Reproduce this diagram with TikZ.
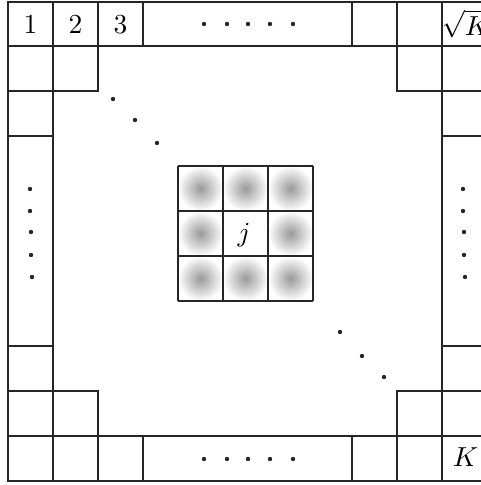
\documentclass[tikz,border=0pt]{standalone}
\begin{document}
\begin{tikzpicture}[x=1pt,y=-1pt,
  gridline/.style={line width=1.6pt,black!85},
  lbl/.style={font=\normalsize,scale=2.75,inner sep=0pt},
  dotmark/.style={fill=black!85,draw=none}]
\clip (0,0) rectangle (481,485);
\fill[white] (0,0) rectangle (481,485);
% shaded neighbour cells
\foreach \cx/\cy in {178/166,223/166,268/166,178/211,268/211,178/256,223/256,268/256}{
  \shade[inner color=gray!80,outer color=white] (\cx,\cy) rectangle ++(45,45);
}
% center 3x3 grid
\foreach \v in {178,223,268,313}{
  \draw[gridline] (\v,166) -- (\v,301);
}
\foreach \v in {166,211,256,301}{
  \draw[gridline] (178,\v) -- (313,\v);
}
% outer frame
\draw[gridline] (8,2) rectangle (487,481);
\draw[gridline] (8,46) -- (487,46);
\draw[gridline] (8,436) -- (487,436);
\draw[gridline] (53,2) -- (53,481);
\draw[gridline] (442,2) -- (442,481);
\foreach \v in {98,143,352,397}{
  \draw[gridline] (\v,2) -- (\v,46);
  \draw[gridline] (\v,436) -- (\v,481);
}
% staircases
\draw[gridline] (8,91) -- (98,91) -- (98,46);
\draw[gridline] (487,91) -- (397,91) -- (397,46);
\draw[gridline] (8,136) -- (53,136);
\draw[gridline] (442,136) -- (487,136);
\draw[gridline] (8,346) -- (53,346);
\draw[gridline] (442,346) -- (487,346);
\draw[gridline] (8,391) -- (98,391) -- (98,436);
\draw[gridline] (487,391) -- (397,391) -- (397,436);
% labels
\node[lbl] (n1) at (30.5,24.5) {$1$};
\node[lbl] (n2) at (75.5,24.5) {$2$};
\node[lbl] (n3) at (120.5,24.5) {$3$};
\node[lbl] (nrk) at (466,24) {$\sqrt{K}$};
\node[lbl] (nk) at (465.5,457) {$K$};
\node[lbl] (nj) at (244,235) {$j$};
% dots
\foreach \x in {204,227,248,270,293}{
  \fill[dotmark] (\x,24) circle (2.2);
  \fill[dotmark] (\x,459) circle (2.2);
}
\foreach \x/\y in {30/189,30/211,31/232,31/255,32/277}{
  \fill[dotmark] (\x,\y) circle (2.2);
  \fill[dotmark] (\x+433,\y) circle (2.2);
}
\foreach \x/\y in {113/99,135/120,157/143,340/332,362/356,384/377}{
  \fill[dotmark] (\x,\y) circle (2.2);
}
\end{tikzpicture}
\end{document}
